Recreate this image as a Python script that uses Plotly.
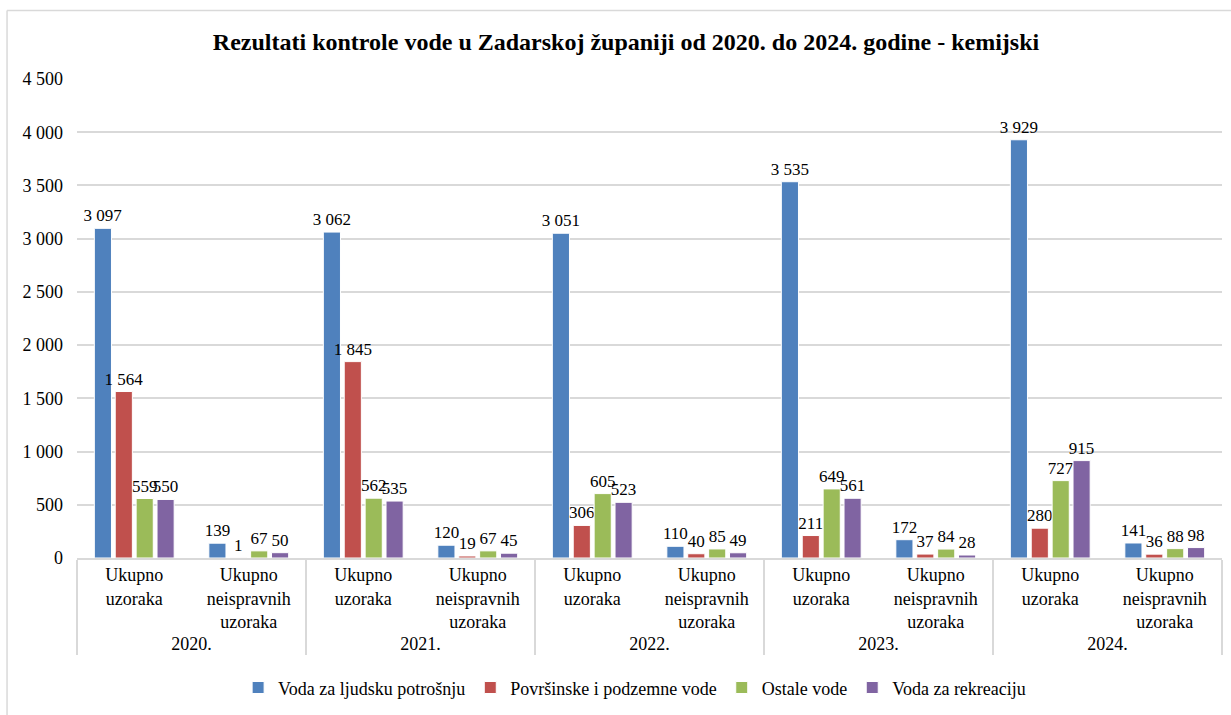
import plotly.graph_objects as go

years = ["2020.", "2021.", "2022.", "2023.", "2024."]
groups = ["Ukupno<br>uzoraka", "Ukupno<br>neispravnih<br>uzoraka"]
series_names = ["Voda za ljudsku potrošnju", "Površinske i podzemne vode", "Ostale vode", "Voda za rekreaciju"]
colors = ["#4F81BD", "#C0504D", "#9BBB59", "#8064A2"]

voda_ljudska = [3097, 139, 3062, 120, 3051, 110, 3535, 172, 3929, 141]
povrsinske = [1564, 1, 1845, 19, 306, 40, 211, 37, 280, 36]
ostale = [559, 67, 562, 67, 605, 85, 649, 84, 727, 88]
rekreacija = [550, 50, 535, 45, 523, 49, 561, 28, 915, 98]

x_year = [y for y in years for _ in groups]
x_group = [g for _ in years for g in groups]

FONT = "Liberation Serif"
fig = go.Figure()
for name, vals, col in zip(series_names, [voda_ljudska, povrsinske, ostale, rekreacija], colors):
    fig.add_trace(go.Bar(
        x=[x_year, x_group], y=vals, name=name,
        marker=dict(color=col, line=dict(color="white", width=1)),
        texttemplate="%{y:,}", textposition="outside",
        textfont=dict(family=FONT, size=17, color="#000"),
        cliponaxis=False, constraintext="none",
    ))

W, H = 1231, 715
fig.update_layout(
    width=W, height=H,
    separators=", ",
    paper_bgcolor="white", plot_bgcolor="white",
    font=dict(family=FONT, size=17, color="#000"),
    title=dict(text="<b>Rezultati kontrole vode u Zadarskoj županiji od 2020. do 2024. godine - kemijski</b>",
               x=626 / W, xanchor="center", y=1 - 42 / H, yanchor="middle", font=dict(size=24, family=FONT)),
    margin=dict(l=77, r=9, t=79, b=153),
    barmode="group", bargap=0.27, bargroupgap=0.18,
    legend=dict(orientation="h", x=0.487, xanchor="center", y=-0.271, yanchor="middle",
                font=dict(size=18, family=FONT), itemwidth=30, tracegroupgap=0),
    yaxis=dict(range=[0, 4500], dtick=500, tickformat=",d", gridcolor="#D9D9D9", gridwidth=1.5,
               zeroline=False, showline=False, ticks="", ticklabelstandoff=13,
               tickfont=dict(size=18, family=FONT)),
    xaxis=dict(type="multicategory", showline=True, linecolor="#D9D9D9", linewidth=1.5,
               showdividers=True, dividercolor="#D9D9D9", dividerwidth=1.5,
               tickfont=dict(size=18, family=FONT), ticks=""),
    shapes=[
        dict(type="line", xref="paper", yref="paper", x0=-0.0611, x1=-0.0611, y0=-0.33, y1=1.143,
             line=dict(color="#D9D9D9", width=1.5), layer="below"),
        dict(type="line", xref="paper", yref="paper", x0=-0.0611, x1=1.02, y0=1.143, y1=1.143,
             line=dict(color="#D9D9D9", width=1.5), layer="below"),
    ],
)

fig.write_html("out.html", config={"displayModeBar": False},
               post_script="document.body.style.margin='0';")
